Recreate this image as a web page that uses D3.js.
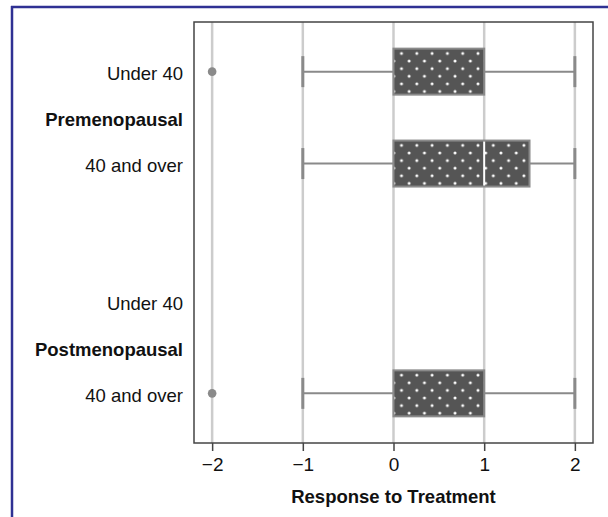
<!DOCTYPE html>
<html><head><meta charset="utf-8">
<script src="https://cdn.jsdelivr.net/npm/d3@7"></script>
<style>body{margin:0;background:#fff}svg{display:block}text{font-family:"Liberation Sans",Arial,sans-serif}</style>
</head><body><svg id="c" width="608" height="517"></svg>
<script>
// Row slots (top to bottom); empty strings are spacer slots
const rowIds = ["pre_u40","pre_lbl","pre_o40","gap1","gap2","post_u40","post_lbl","post_o40"];
const rowLabels = ["Under 40","Premenopausal","40 and over","","","Under 40","Postmenopausal","40 and over"];
const rowBold = [false,true,false,false,false,false,true,false];
// Box statistics per group (null = no data)
const boxRows = ["pre_u40","pre_o40","post_u40","post_o40"];
const q1 =        [0,   0,   null, 0];
const medians =   [1,   1,   null, 1];
const q3 =        [1,   1.5, null, 1];
const whiskLow =  [-1, -1,   null, -1];
const whiskHigh = [2,   2,   null, 2];
const outliers =  [[-2], [], [], [-2]];
const xTicks = [-2,-1,0,1,2];
const xTitle = "Response to Treatment";

const svg = d3.select("#c");
const L=194, R=593, T=22, B=443;
const x = d3.scaleLinear().domain([-2.2,2.2]).range([L,R]);
const y = d3.scalePoint().domain(rowIds).range([T,B]).padding(1.08);
const boxH = 46, capH = 31;

// blue frame
svg.append("line").attr("x1",11).attr("x2",608).attr("y1",7).attr("y2",7).attr("stroke","#2f3193").attr("stroke-width",2.5);
svg.append("line").attr("x1",12).attr("x2",12).attr("y1",6).attr("y2",517).attr("stroke","#2f3193").attr("stroke-width",2.5);

const defs = svg.append("defs");

// gridlines
svg.append("g").selectAll("line").data(xTicks).join("line")
  .attr("x1",d=>x(d)).attr("x2",d=>x(d)).attr("y1",T).attr("y2",B)
  .attr("stroke","#cccccc").attr("stroke-width",2.5);

const g = svg.append("g");
boxRows.forEach((id,i)=>{
  if(q1[i]===null) return;
  const cy = y(id);
  const top = cy-boxH/2;
  const pid = "dots"+i;
  const pw=15.3, ph=15.2;
  const p = defs.append("pattern").attr("id",pid).attr("patternUnits","userSpaceOnUse")
    .attr("width",pw).attr("height",ph)
    .attr("x",x(q1[i])+8-pw).attr("y",top+4.8-ph);
  p.append("rect").attr("width",pw).attr("height",ph).attr("fill","#555555");
  [[0,0],[pw,0],[0,ph],[pw,ph],[pw/2,ph/2]].forEach(c=>{
    p.append("circle").attr("cx",c[0]).attr("cy",c[1]).attr("r",1.5).attr("fill","#fff");
  });
  // whiskers
  g.append("line").attr("x1",x(whiskLow[i])).attr("x2",x(q1[i])).attr("y1",cy).attr("y2",cy).attr("stroke","#8a8a8a").attr("stroke-width",2);
  g.append("line").attr("x1",x(q3[i])).attr("x2",x(whiskHigh[i])).attr("y1",cy).attr("y2",cy).attr("stroke","#8a8a8a").attr("stroke-width",2);
  [whiskLow[i],whiskHigh[i]].forEach(v=>{
    g.append("line").attr("x1",x(v)).attr("x2",x(v)).attr("y1",cy-capH/2).attr("y2",cy+capH/2).attr("stroke","#8a8a8a").attr("stroke-width",3);
  });
  // box
  g.append("rect").attr("x",x(q1[i])).attr("y",top).attr("width",x(q3[i])-x(q1[i])).attr("height",boxH)
    .attr("fill",`url(#${pid})`).attr("stroke","#8a8a8a").attr("stroke-width",2);
  if(medians[i]>q1[i] && medians[i]<q3[i]){
    g.append("line").attr("x1",x(medians[i])).attr("x2",x(medians[i])).attr("y1",top+1).attr("y2",top+boxH-1).attr("stroke","#fff").attr("stroke-width",2);
  }
  outliers[i].forEach(v=>{
    g.append("circle").attr("cx",x(v)).attr("cy",cy).attr("r",4.3).attr("fill","#8a8a8a");
  });
});

// plot frame
svg.append("rect").attr("x",L).attr("y",T).attr("width",R-L).attr("height",B-T).attr("fill","none").attr("stroke","#444").attr("stroke-width",1.5);

// x axis
const xa = svg.append("g").attr("transform",`translate(0,${B})`)
  .call(d3.axisBottom(x).tickValues(xTicks).tickSize(8).tickPadding(7).tickFormat(d=>d<0?"\u2212"+Math.abs(d):String(d)));
xa.select(".domain").remove();
xa.selectAll(".tick line").attr("stroke","#444").attr("stroke-width",1.5);
xa.selectAll(".tick text").attr("font-size",19).attr("fill","#111").style("font-family","'Liberation Sans',Arial,sans-serif");

svg.append("text").attr("x",(L+R)/2).attr("y",503).attr("text-anchor","middle")
  .attr("font-size",18.5).attr("font-weight","bold").attr("fill","#111").text(xTitle);

// y labels
svg.append("g").selectAll("text").data(rowIds).join("text")
  .attr("x",183).attr("y",d=>y(d)).attr("dy","0.46em").attr("text-anchor","end")
  .attr("font-size",18.5).attr("fill","#111")
  .attr("font-weight",(d,i)=>rowBold[i]?"bold":"normal")
  .text((d,i)=>rowLabels[i]);
</script></body></html>
